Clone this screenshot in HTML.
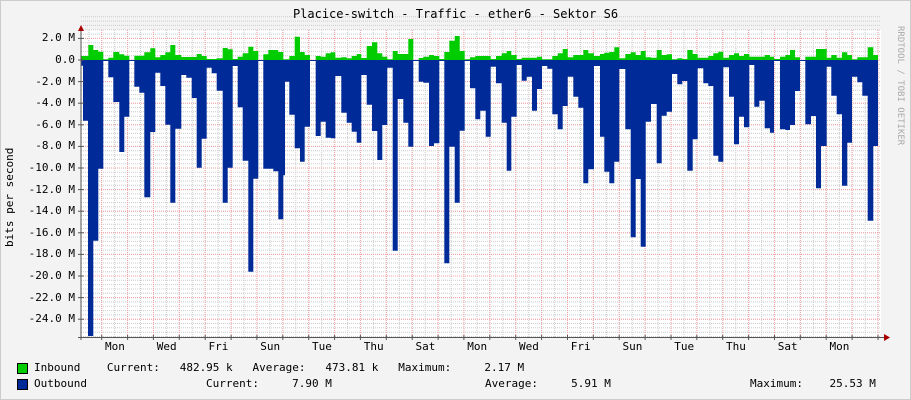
<!DOCTYPE html>
<html><head><meta charset="utf-8"><style>
body{margin:0;background:#f3f3f3;}
#c{position:relative;width:911px;height:400px;background:#f3f3f3;overflow:hidden;font-family:"DejaVu Sans Mono","Liberation Mono",monospace;font-size:11px;color:#000;}
.t{position:absolute;white-space:pre;line-height:12px;}
</style></head><body><div id="c">
<svg id="s" width="911" height="400" style="position:absolute;left:0;top:0"></svg>
<div class="t" style="left:0;width:911px;top:8px;text-align:center;font-size:12px">Placice-switch - Traffic - ether6 - Sektor S6</div>
<div class="t" style="left:893px;top:26px;font-size:9px;color:#aaa;transform-origin:0 0;transform:translate(0,0) rotate(90deg);left:906px">RRDTOOL / TOBI OETIKER</div>
<div class="t" style="left:4px;top:247px;transform-origin:0 0;transform:rotate(-90deg)">bits per second</div>
<div id="yl"></div>
<div id="xl"></div>
<div style="position:absolute;left:17px;top:363px;width:9px;height:9px;background:#00cc00;border:1px solid #000"></div>
<div style="position:absolute;left:17px;top:379px;width:9px;height:9px;background:#002a97;border:1px solid #000"></div>
<div class="t" style="left:34px;top:362px">Inbound    Current:   482.95 k   Average:   473.81 k   Maximum:     2.17 M</div>
<div class="t" style="left:34px;top:378px">Outbound</div>
<div class="t" style="left:206px;top:378px">Current:     7.90 M</div>
<div class="t" style="left:485px;top:378px">Average:     5.91 M</div>
<div class="t" style="left:750px;top:378px">Maximum:    25.53 M</div>
</div>
<script>
var s=document.getElementById('s'),h='';
h+='<rect x="81" y="30" width="800" height="307" fill="#fff"/>';
// minor horizontal
for(var y=60-21.6*2;y<=337;y+=4.32){h+='<line x1="81" x2="881" y1="'+y.toFixed(1)+'" y2="'+y.toFixed(1)+'" stroke="#ccc" stroke-width="1" stroke-dasharray="1,1"/>';}
for(var x=101.7-12.94;x<881;x+=12.94){if(x>81)h+='<line y1="30" y2="337" x1="'+x.toFixed(1)+'" x2="'+x.toFixed(1)+'" stroke="#ccc" stroke-dasharray="1,1"/>';}
for(var x=101.7;x<881;x+=25.875){h+='<line y1="30" y2="337" x1="'+x.toFixed(1)+'" x2="'+x.toFixed(1)+'" stroke="#f2a0a0" stroke-dasharray="1,1"/>';}
var yl='';
for(var k=1;k>=-12;k--){var yy=60-21.6*k;h+='<line x1="81" x2="881" y1="'+yy.toFixed(1)+'" y2="'+yy.toFixed(1)+'" stroke="#f2a0a0" stroke-dasharray="1,1"/>';
var lab=(k==0?'0.0':(2*k).toFixed(1)+' M');yl+='<div class="t" style="right:'+(911-75)+'px;top:'+(yy-6)+'px;text-align:right">'+lab+'</div>';}
document.getElementById('yl').innerHTML=yl;
var days=['Mon','Wed','Fri','Sun','Tue','Thu','Sat','Mon','Wed','Fri','Sun','Tue','Thu','Sat','Mon'],xl='';
for(var i=0;i<days.length;i++){var cx=115+51.75*i;xl+='<div class="t" style="left:'+(cx-10)+'px;top:341px">'+days[i]+'</div>';}
document.getElementById('xl').innerHTML=xl;
function seg(off,a){var r=[];for(var i=0;i<a.length;i+=2)r.push([a[i]/3+off,a[i+1]/3+20]);return r;}
var out=[].concat(
seg(0,[249,137,264,302,280,948,295,662,310,446,325,122,340,172,358,246,373,396,388,290,403,122,418,200,433,218,451,532,466,336,481,158,496,198,511,314,526,548,544,326,559,165,575,173,590,234,605,443,620,356,635,143,650,160,668,212,683,548,698,443,713,138,728,262,745,422,760,755,775,476,790,122,820,446,835,454,850,598,855,466,868,185,884,284,900,385]),
seg(300,[14,425,30,320,47,0,62,348,77,305,92,353,106,355,124,168,140,278,155,308,170,335,184,368,200,165,216,254,232,333,247,420,262,315,278,143,293,692,310,237,325,308,340,380,356,0,370,185,387,188,402,378,418,370,433,0,448,730,464,380,479,548,494,332,510,0,526,205,541,298,557,272,572,350,588,140,605,190,620,308,634,452,650,290,665,135,680,182,696,170,711,272,726,207,742,138,757,146,773,283,788,328,803,258,820,170,835,230,850,263,865,490,882,448,900,138]),
seg(600,[13,350,28,455,43,490,58,425,76,147,92,328,107,652,122,477,137,680,153,305,170,252,185,430,200,287,216,275,232,162,247,193,262,183,278,452,293,358,310,145,325,190,340,198,355,407,370,425,387,142,402,230,417,373,432,290,448,322,463,135,478,260,494,242,510,325,522,338,540,0,556,328,570,330,585,315,600,213,616,0,633,313,648,288,663,505,680,378,694,140,710,227,726,283,742,497,756,368,772,170,787,187,803,227,820,602,834,378]));
var inn=[].concat(
seg(0,[249,108,265,108,280,75,295,90,310,95,325,118,340,113,358,96,373,103,388,107,403,120,433,107,451,97,466,85,481,112,496,105,511,97,526,75,544,105,590,111,605,102,620,108,650,117,668,115,683,84,698,88,713,117,728,110,745,100,760,80,775,93,790,120,805,103,835,90,850,96,868,118,884,108,900,50]),
seg(300,[14,96,30,105,47,120,62,108,77,110,92,100,106,97,124,113,140,112,155,115,170,108,184,102,200,114,216,78,232,67,247,100,262,110,278,118,293,93,310,102,325,102,340,57,356,120,370,114,387,110,402,105,418,108,433,117,448,96,464,62,479,48,494,93,510,118,526,112,572,108,588,117,605,108,620,100,634,93,650,105,665,117,711,113,726,110,757,118,773,108,788,100,803,87,820,112,850,105,865,90,882,100,900,108]),
seg(600,[13,102,28,98,43,96,58,82,76,115,92,102,107,97,122,105,137,93,153,112,170,113,185,90,200,105,216,103,232,118,247,115,262,117,278,90,293,102,325,113,340,108,355,100,370,95,387,113,402,105,417,100,432,108,448,102,463,110,494,110,510,105,522,110,540,117,556,110,570,105,585,90,600,112,616,120,648,110,680,87,694,113,710,105,726,113,742,97,756,105,772,118,803,112,820,82,834,105]));
function path(a){var d='M81,60',px=81;for(var i=0;i<a.length;i++){var y=a[i][1];if(y<=26.7+0.1&&a===out)y=60;d+=' L'+px.toFixed(1)+','+y.toFixed(1)+' L'+a[i][0].toFixed(1)+','+y.toFixed(1);px=a[i][0];}return d+' L'+px.toFixed(1)+',60 Z';}
for(var i=0;i<out.length;i++){if(out[i][1]<60)out[i][1]=60;if(out[i][1]>337)out[i][1]=337;}
h+='<path d="'+path(inn)+'" fill="#00cc00"/>';
h+='<path d="'+path(out)+'" fill="#002a97"/>';
h+='<line x1="81" x2="878" y1="60.5" y2="60.5" stroke="#002a97"/>';
h+='<line x1="81" x2="81" y1="28" y2="340" stroke="#555"/><line x1="78" x2="884" y1="337.5" y2="337.5" stroke="#555"/>';
h+='<polygon points="78,31 84,31 81,25" fill="#a00"/><polygon points="884,334 884,341 890,337.5" fill="#a00"/>';
for(var k=1;k>=-12;k--){var yy=60-21.6*k;h+='<line x1="78" x2="84" y1="'+yy+'" y2="'+yy+'" stroke="#555"/>';}
for(var x=101.7;x<881;x+=25.875){h+='<line y1="335" y2="340" x1="'+x.toFixed(1)+'" x2="'+x.toFixed(1)+'" stroke="#555"/>';}
h+='<rect x="0.5" y="0.5" width="910" height="399" fill="none" stroke="#ccc"/>';
s.innerHTML=h;
</script>
</body></html>
